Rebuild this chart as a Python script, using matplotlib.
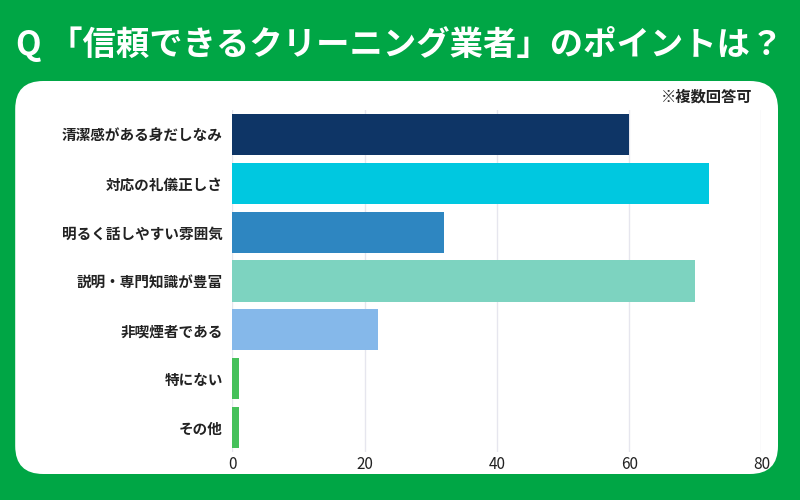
import matplotlib
matplotlib.use("Agg")
import matplotlib.pyplot as plt
from matplotlib.patches import FancyBboxPatch

plt.rcParams['font.family'] = ['Noto Sans CJK JP', 'DejaVu Sans']

# data
labels = ['清潔感がある身だしなみ', '対応の礼儀正しさ', '明るく話しやすい雰囲気',
          '説明・専門知識が豊富', '非喫煙者である', '特にない', 'その他']
values = [60, 72, 32, 70, 22, 1, 1]
colors = ['#0e3566', '#00c8e0', '#2e86c1', '#7dd3c0', '#85b8ea', '#45c15a', '#45c15a']
ticks = [0, 20, 40, 60, 80]

title = 'Q 「信頼できるクリーニング業者」のポイントは？'
note = '※複数回答可'

green = '#00a645'

fig = plt.figure(figsize=(8, 5), dpi=100, facecolor=green)

# white rounded panel
panel = FancyBboxPatch((0.019 + 0.025, 0.052 + 0.04), 0.9535 - 0.05, 0.786 - 0.08,
                       boxstyle='round,pad=0.025,rounding_size=0.035',
                       transform=fig.transFigure, facecolor='white',
                       edgecolor='none', zorder=0.5, mutation_aspect=1.6)
fig.patches.append(panel)

fig.text(0.5, 0.912, title, ha='center', va='center', color='white',
         fontsize=24, fontweight='bold')
fig.text(0.94, 0.806, note, ha='right', va='center', color='#222222',
         fontsize=11, fontweight='bold')

ax = fig.add_axes([0.2906, 0.096, 0.9518 - 0.2906, 0.684])
ax.set_zorder(2)
ax.set_facecolor('none')
y = list(range(len(labels)))
ax.barh(y, values, height=0.84, color=colors, zorder=3)
ax.set_xlim(0, 80)
ax.set_ylim(len(labels) - 0.5, -0.5)
ax.set_yticks(y)
ax.set_yticklabels(labels, fontsize=10.5, fontweight='bold', color='#222222')
ax.set_xticks(ticks)
ax.set_xticklabels([str(t) for t in ticks], fontsize=11, color='#222222')
ax.tick_params(axis='y', length=0, pad=7)
ax.tick_params(axis='x', length=0, pad=3)
ax.grid(axis='x', color='#e6e6ee', linewidth=1, zorder=0)
for s in ax.spines.values():
    s.set_visible(False)

fig.savefig('out.png', dpi=100, facecolor=green)
